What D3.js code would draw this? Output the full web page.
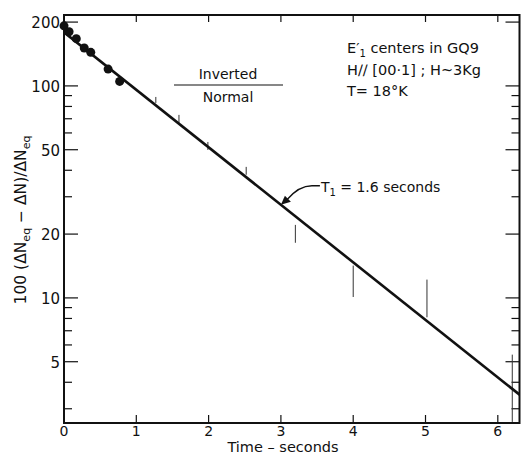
<!DOCTYPE html>
<meta charset="utf-8">
<style>
  body { margin: 0; background: #fff; }
  text { font-family: "DejaVu Sans", sans-serif; fill: #111; }
</style>
<svg width="521" height="455" id="chart"></svg>
<script src="https://d3js.org/d3.v7.min.js"></script>
<script>

// measured points (filled circles)
var pointTimes = [0.0, 0.07, 0.17, 0.28, 0.37, 0.61, 0.77];
var pointValues = [192, 180, 167, 151, 144, 120, 105];

// vertical error bars (no markers)
var barTimes = [1.27, 1.59, 1.99, 2.52, 3.2, 4.0, 5.02, 6.2];
var barHigh = [88.7, 73.0, 54.4, 41.5, 22.1, 14.2, 12.2, 5.4];
var barLow = [83.1, 66.9, 49.9, 38.1, 18.2, 10.1, 8.1, 2.6];

// fitted line, T1 = 1.6 s
var fitTimes = [0, 6.35];
var fitValues = [179, 3.39];

var xTicks = [0, 1, 2, 3, 4, 5, 6];
var yMajor = [5, 10, 20, 50, 100, 200];
var yMinor = [3, 4, 6, 7, 8, 9, 30, 40, 60, 70, 80, 90];

var annotTime = 3.0, annotValue = 27.5;

var svg = d3.select("#chart");

var pL = 64, pR = 519.5, pT = 15, pB = 423;

var x = d3.scaleLinear().domain([0, 6.3]).range([pL, pR]);
var y = d3.scaleLog().domain([2.57, 216]).range([pB, pT]);

svg.append("clipPath").attr("id", "clip")
  .append("rect").attr("x", pL).attr("y", pT)
  .attr("width", pR - pL).attr("height", pB - pT);

// frame
svg.append("rect")
  .attr("x", pL).attr("y", pT)
  .attr("width", pR - pL).attr("height", pB - pT)
  .attr("fill", "none").attr("stroke", "#111").attr("stroke-width", 2);

// bottom / top ticks, inward
svg.append("g").selectAll("line").data(xTicks.slice(1)).enter().append("line")
  .attr("x1", d => x(d)).attr("x2", d => x(d))
  .attr("y1", pB).attr("y2", pB - 8)
  .attr("stroke", "#111").attr("stroke-width", 1.2);
svg.append("g").selectAll("line").data(xTicks.slice(1)).enter().append("line")
  .attr("x1", d => x(d)).attr("x2", d => x(d))
  .attr("y1", pT).attr("y2", pT + 7)
  .attr("stroke", "#111").attr("stroke-width", 1.2);

svg.append("g").selectAll("text").data(xTicks).enter().append("text")
  .attr("x", d => x(d)).attr("y", 436)
  .attr("text-anchor", "middle").attr("font-size", 14)
  .text(d => d);

// left / right ticks
function yTicks(vals, len) {
  svg.append("g").selectAll("line").data(vals).enter().append("line")
    .attr("x1", pL).attr("x2", pL + len)
    .attr("y1", d => y(d)).attr("y2", d => y(d))
    .attr("stroke", "#111").attr("stroke-width", 1.2);
  svg.append("g").selectAll("line").data(vals).enter().append("line")
    .attr("x1", pR).attr("x2", pR - len)
    .attr("y1", d => y(d)).attr("y2", d => y(d))
    .attr("stroke", "#111").attr("stroke-width", 1.2);
}
yTicks(yMajor, 14);
yTicks(yMinor, 8);

svg.append("g").selectAll("text").data(yMajor).enter().append("text")
  .attr("x", 60).attr("y", d => y(d) + 6)
  .attr("text-anchor", "end").attr("font-size", 15)
  .text(d => d);

// error bars
svg.append("g").selectAll("line").data(barTimes).enter().append("line")
  .attr("clip-path", "url(#clip)")
  .attr("x1", d => x(d)).attr("x2", d => x(d))
  .attr("y1", (d, i) => y(barHigh[i])).attr("y2", (d, i) => y(barLow[i]))
  .attr("stroke", "#333").attr("stroke-width", 1);

// fitted line
var fit = fitTimes.map((t, i) => [t, fitValues[i]]);
svg.append("path").datum(fit)
  .attr("clip-path", "url(#clip)")
  .attr("d", d3.line().x(d => x(d[0])).y(d => y(d[1])))
  .attr("fill", "none").attr("stroke", "#111").attr("stroke-width", 2.6);

// points
svg.append("g").selectAll("circle").data(pointTimes).enter().append("circle")
  .attr("cx", d => x(d)).attr("cy", (d, i) => y(pointValues[i]))
  .attr("r", 4.5).attr("fill", "#111");

// T1 annotation
var tx = x(annotTime), ty = y(annotValue);
svg.append("path")
  .attr("d", "M" + (tx + 39) + "," + (ty - 19) + " H" + (tx + 31) +
    " Q" + (tx + 18) + "," + (ty - 19) + " " + (tx + 6) + "," + (ty - 5))
  .attr("fill", "none").attr("stroke", "#111").attr("stroke-width", 1.3);
svg.append("path")
  .attr("d", "M" + tx + "," + ty + " L" + (tx + 4) + "," + (ty - 9) +
    " L" + (tx + 10) + "," + (ty - 3) + " Z")
  .attr("fill", "#111");
var t1 = svg.append("text").attr("x", tx + 40).attr("y", ty - 13).attr("font-size", 14);
t1.append("tspan").text("T");
t1.append("tspan").attr("font-size", 10).attr("dy", 4).text("1");
t1.append("tspan").attr("dy", -4).text(" = 1.6 seconds");

// Inverted / Normal
svg.append("text").attr("x", 228).attr("y", 79).attr("text-anchor", "middle")
  .attr("font-size", 14).text("Inverted");
svg.append("line").attr("x1", 174).attr("x2", 283).attr("y1", 85).attr("y2", 85)
  .attr("stroke", "#111").attr("stroke-width", 1.2);
svg.append("text").attr("x", 228).attr("y", 102).attr("text-anchor", "middle")
  .attr("font-size", 14).text("Normal");

// condition block
var c1 = svg.append("text").attr("x", 347).attr("y", 53).attr("font-size", 14.5);
c1.append("tspan").text("E\u2032");
c1.append("tspan").attr("font-size", 10).attr("dy", 4).text("1");
c1.append("tspan").attr("dy", -4).text(" centers in GQ9");
svg.append("text").attr("x", 347).attr("y", 75).attr("font-size", 14.5)
  .text("H\u2215\u2215 [00\u00b71] ; H~3Kg");
svg.append("text").attr("x", 347).attr("y", 96).attr("font-size", 14.5)
  .text("T= 18\u00b0K");

// axis titles
svg.append("text").attr("x", 283).attr("y", 452).attr("text-anchor", "middle")
  .attr("font-size", 14.5).text("Time \u2013 seconds");

var yt = svg.append("text").attr("transform", "translate(26,220) rotate(-90)")
  .attr("text-anchor", "middle").attr("font-size", 15.5);
yt.append("tspan").text("100 (\u0394N");
yt.append("tspan").attr("font-size", 11).attr("dy", 4).text("eq");
yt.append("tspan").attr("dy", -4).text(" \u2212 \u0394N)/\u0394N");
yt.append("tspan").attr("font-size", 11).attr("dy", 4).text("eq");

</script>
